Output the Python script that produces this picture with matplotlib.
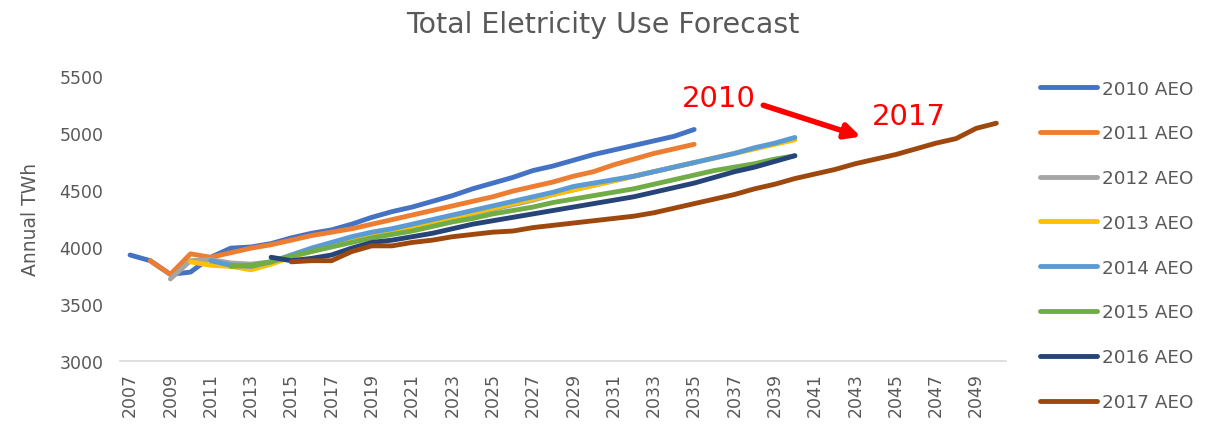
import matplotlib
matplotlib.use("Agg")
import matplotlib.pyplot as plt

# category axis: one slot per year
years = list(range(2007, 2051))

# forecast series, each starts at its own first year
aeo2010_start, aeo2010 = 2007, [3930, 3880, 3760, 3780, 3910, 3990, 4000, 4030, 4080, 4120,
                                4150, 4200, 4260, 4310, 4350, 4400, 4450, 4510, 4560, 4610,
                                4670, 4710, 4760, 4810, 4850, 4890, 4930, 4970, 5030]
aeo2011_start, aeo2011 = 2008, [3880, 3760, 3940, 3910, 3950, 3990, 4020, 4060, 4100, 4130,
                                4160, 4200, 4240, 4280, 4320, 4360, 4400, 4440, 4490, 4530,
                                4570, 4620, 4660, 4720, 4770, 4820, 4860, 4900]
aeo2012_start, aeo2012 = 2009, [3720, 3880, 3890, 3860, 3850, 3870, 3920, 3970, 4010, 4060,
                                4100, 4130, 4170, 4210, 4250, 4290, 4330, 4370, 4410, 4460,
                                4500, 4540, 4580, 4620, 4660, 4700, 4740]
aeo2013_start, aeo2013 = 2010, [3870, 3840, 3830, 3800, 3850, 3910, 3960, 4010, 4060, 4110,
                                4140, 4180, 4220, 4260, 4300, 4340, 4380, 4420, 4460, 4500,
                                4540, 4580, 4620, 4660, 4700, 4740, 4780, 4820, 4860, 4900, 4940]
aeo2014_start, aeo2014 = 2011, [3880, 3840, 3830, 3870, 3930, 3990, 4040, 4090, 4130, 4160,
                                4200, 4240, 4280, 4320, 4360, 4400, 4440, 4480, 4530, 4560,
                                4590, 4620, 4660, 4700, 4740, 4780, 4820, 4870, 4910, 4960]
aeo2015_start, aeo2015 = 2012, [3830, 3840, 3870, 3920, 3960, 4000, 4040, 4080, 4110, 4140,
                                4180, 4220, 4250, 4290, 4320, 4350, 4390, 4420, 4450, 4480,
                                4510, 4550, 4590, 4630, 4670, 4700, 4730, 4770, 4800]
aeo2016_start, aeo2016 = 2014, [3910, 3880, 3900, 3930, 3990, 4040, 4060, 4090, 4120, 4160,
                                4200, 4230, 4260, 4290, 4320, 4350, 4380, 4410, 4440, 4480,
                                4520, 4560, 4610, 4660, 4700, 4750, 4800]
aeo2017_start, aeo2017 = 2015, [3870, 3880, 3880, 3960, 4010, 4010, 4040, 4060, 4090, 4110,
                                4130, 4140, 4170, 4190, 4210, 4230, 4250, 4270, 4300, 4340,
                                4380, 4420, 4460, 4510, 4550, 4600, 4640, 4680, 4730, 4770,
                                4810, 4860, 4910, 4950, 5040, 5085]

series = [
    ("2010 AEO", aeo2010_start, aeo2010, "#4472C4"),
    ("2011 AEO", aeo2011_start, aeo2011, "#ED7D31"),
    ("2012 AEO", aeo2012_start, aeo2012, "#A5A5A5"),
    ("2013 AEO", aeo2013_start, aeo2013, "#FFC000"),
    ("2014 AEO", aeo2014_start, aeo2014, "#5B9BD5"),
    ("2015 AEO", aeo2015_start, aeo2015, "#70AD47"),
    ("2016 AEO", aeo2016_start, aeo2016, "#264478"),
    ("2017 AEO", aeo2017_start, aeo2017, "#9E480E"),
]

grey = "#595959"
fig = plt.figure(figsize=(12.06, 4.27), dpi=100)
ax = fig.add_axes([0.0995, 0.152, 0.735, 0.668])

for label, start, vals, color in series:
    i0 = years.index(start)
    xs = list(range(i0, i0 + len(vals)))
    ax.plot(xs, vals, color=color, lw=3.5, label=label,
            solid_capstyle="round", solid_joinstyle="round")

ax.set_xlim(-0.5, len(years) - 0.5)
ax.set_ylim(3000, 5500)
ax.set_yticks(range(3000, 5501, 500))
ax.set_xticks(range(0, len(years), 2))
ax.set_xticklabels([str(y) for y in years[::2]], rotation=90)
ax.tick_params(axis="both", length=0, labelsize=12.5, labelcolor=grey)
ax.tick_params(axis="x", pad=8)
ax.tick_params(axis="y", pad=12)
for s in ["top", "right", "left"]:
    ax.spines[s].set_visible(False)
ax.spines["bottom"].set_color("#D9D9D9")
ax.spines["bottom"].set_linewidth(1.2)
ax.set_ylabel("Annual TWh", fontsize=13.5, color=grey, labelpad=14)

fig.suptitle("Total Eletricity Use Forecast", fontsize=20.5, color=grey, y=0.975)

# red annotation showing the shift between editions
ax.annotate("", xy=(36.4, 4960), xytext=(31.3, 5250),
            arrowprops=dict(arrowstyle="-|>,head_length=0.9,head_width=0.45",
                            color="red", lw=4))
ax.text(27.4, 5310, "2010", color="red", fontsize=21, ha="left", va="center")
ax.text(36.8, 5150, "2017", color="red", fontsize=21, ha="left", va="center")

fig.legend(loc="upper left", bbox_to_anchor=(0.849, 0.85), frameon=False,
           fontsize=13.2, labelcolor=grey, handlelength=3.1, handletextpad=0.25,
           labelspacing=1.46)

fig.savefig("out.png", dpi=100)
